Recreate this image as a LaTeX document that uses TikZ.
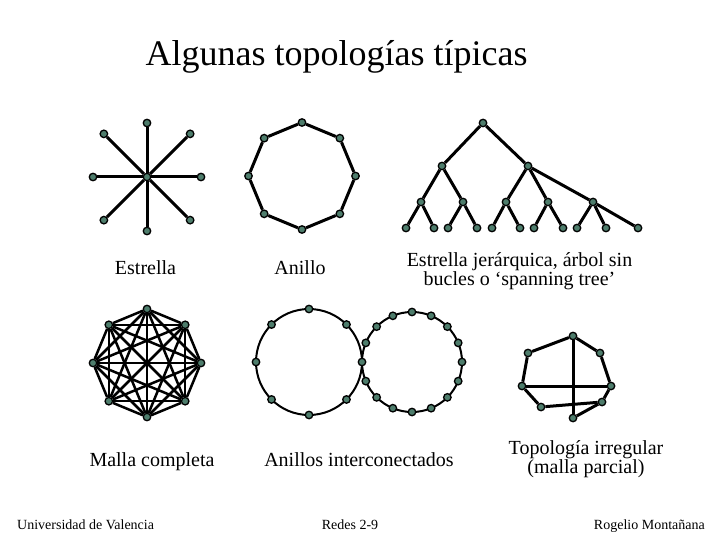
\documentclass[tikz,border=0pt]{standalone}
\usepackage{fontspec}
\setmainfont{Liberation Serif}
\definecolor{dotgreen}{HTML}{4E7D6C}
\begin{document}
\begin{tikzpicture}[x=1pt, y=-1pt,
  dot/.style={circle, draw=black, fill=dotgreen, line width=1.3pt, inner sep=0pt, minimum size=7.5pt},
  lnk/.style={line width=3pt, black},
  meshlnk/.style={line width=2.5pt, black},
  ringlnk/.style={line width=2pt, black},
  lbl/.style={font=\fontsize{20}{18}\selectfont, align=center, anchor=base, inner sep=0pt},
  foot/.style={font=\fontsize{14}{16}\selectfont, anchor=base, inner sep=0pt}]
\useasboundingbox (0,0) rectangle (720,540);

\node (title) [font=\fontsize{36}{40}\selectfont, anchor=base, inner sep=0pt] at (336.5,66) {Algunas topologías típicas};

% Estrella
\node (hub) [dot] at (147,177) {};
\begin{scope}[shift={(147,177)}]
\foreach \n/\a/\r in {1/0/54, 2/45/61, 3/90/54, 4/135/61, 5/180/54, 6/225/61, 7/270/54, 8/315/61}
  \node (s\n) [dot] at (\a:\r) {};
\end{scope}
\foreach \n in {1,...,8}
  \draw[lnk] (hub) -- (s\n);
\node (starlbl) [lbl] at (145.5,274) {Estrella};

% Anillo
\begin{scope}[shift={(302,176)}]
\foreach \n in {1,...,8}
  \node (r\n) [dot] at (90+\n*45:53.5) {};
\end{scope}
\draw[lnk] (r1) -- (r2) -- (r3) -- (r4) -- (r5) -- (r6) -- (r7) -- (r8) -- (r1);
\node (ringlbl) [lbl] at (300,274) {Anillo};

% Estrella jerarquica
\node (root) [dot] at (483,123) {};
\node (t1) [dot] at (442,166) {};
\node (t2) [dot] at (528,166) {};
\node (t11) [dot] at (421,202) {};
\node (t12) [dot] at (463,202) {};
\node (t21) [dot] at (506,202) {};
\node (t22) [dot] at (548,202) {};
\node (t23) [dot] at (593,202) {};
\foreach \n/\x in {t111/406, t112/434, t121/448, t122/477, t211/492, t212/520, t221/534, t222/563, t231/577, t232/606, t233/638}
  \node (\n) [dot] at (\x,228) {};
\foreach \p/\c in {root/t1, root/t2, t1/t11, t1/t12, t2/t21, t2/t22, t2/t23,
    t11/t111, t11/t112, t12/t121, t12/t122, t21/t211, t21/t212,
    t22/t221, t22/t222, t23/t231, t23/t232, t23/t233}
  \draw[lnk] (\p) -- (\c);
\node (treelbl) [lbl] at (519.5,285.5) {Estrella jerárquica, árbol sin\\bucles o ‘spanning tree’};

% Malla completa
\begin{scope}[shift={(147,363)}]
\foreach \n in {1,...,8}
  \node (m\n) [dot] at (90+\n*45:54) {};
\end{scope}
\foreach \i in {1,...,7} {
  \pgfmathtruncatemacro\k{\i+1}
  \foreach \j in {\k,...,8}
    \draw[meshlnk] (m\i) -- (m\j);
}
\node (meshlbl) [lbl] at (152,466.5) {Malla completa};

% Anillos interconectados
\coordinate (ca) at (309,362);
\coordinate (cb) at (412,362);
\draw[ringlnk] (ca) circle[radius=53];
\draw[ringlnk] (cb) circle[radius=50];
\begin{scope}[shift={(309,362)}]
\foreach \n in {1,...,8}
  \node (ia\n) [dot] at (\n*45:53) {};
\end{scope}
\begin{scope}[shift={(412,362)}]
\foreach \n in {1,...,7,9,10,...,16}
  \node (ib\n) [dot] at (\n*22.5:50) {};
\end{scope}
\node (ringslbl) [lbl] at (359,466.5) {Anillos interconectados};

% Topologia irregular
\node (g1) [dot] at (573,336) {};
\node (g2) [dot] at (600,353) {};
\node (g3) [dot] at (611,386) {};
\node (g4) [dot] at (602,402) {};
\node (g5) [dot] at (573,418) {};
\node (g6) [dot] at (541,407) {};
\node (g7) [dot] at (522,386) {};
\node (g8) [dot] at (528,353) {};
\draw[lnk] (g1) -- (g2) -- (g3) -- (g4) -- (g6) -- (g7) -- (g8) -- (g1);
\draw[lnk] (g1) -- (g5);
\draw[lnk] (g5) -- (g4);
\draw[lnk] (g7) -- (g3);
\node (irreglbl) [lbl, font=\fontsize{20}{19.5}\selectfont] at (586,473.8) {Topología irregular\\(malla parcial)};

% pie
\node (uni) [foot, anchor=base west] at (17,529) {Universidad de Valencia};
\node (redes) [foot] at (350,529) {Redes 2-9};
\node (autor) [foot, anchor=base east] at (705,529) {Rogelio Montañana};
\end{tikzpicture}
\end{document}
